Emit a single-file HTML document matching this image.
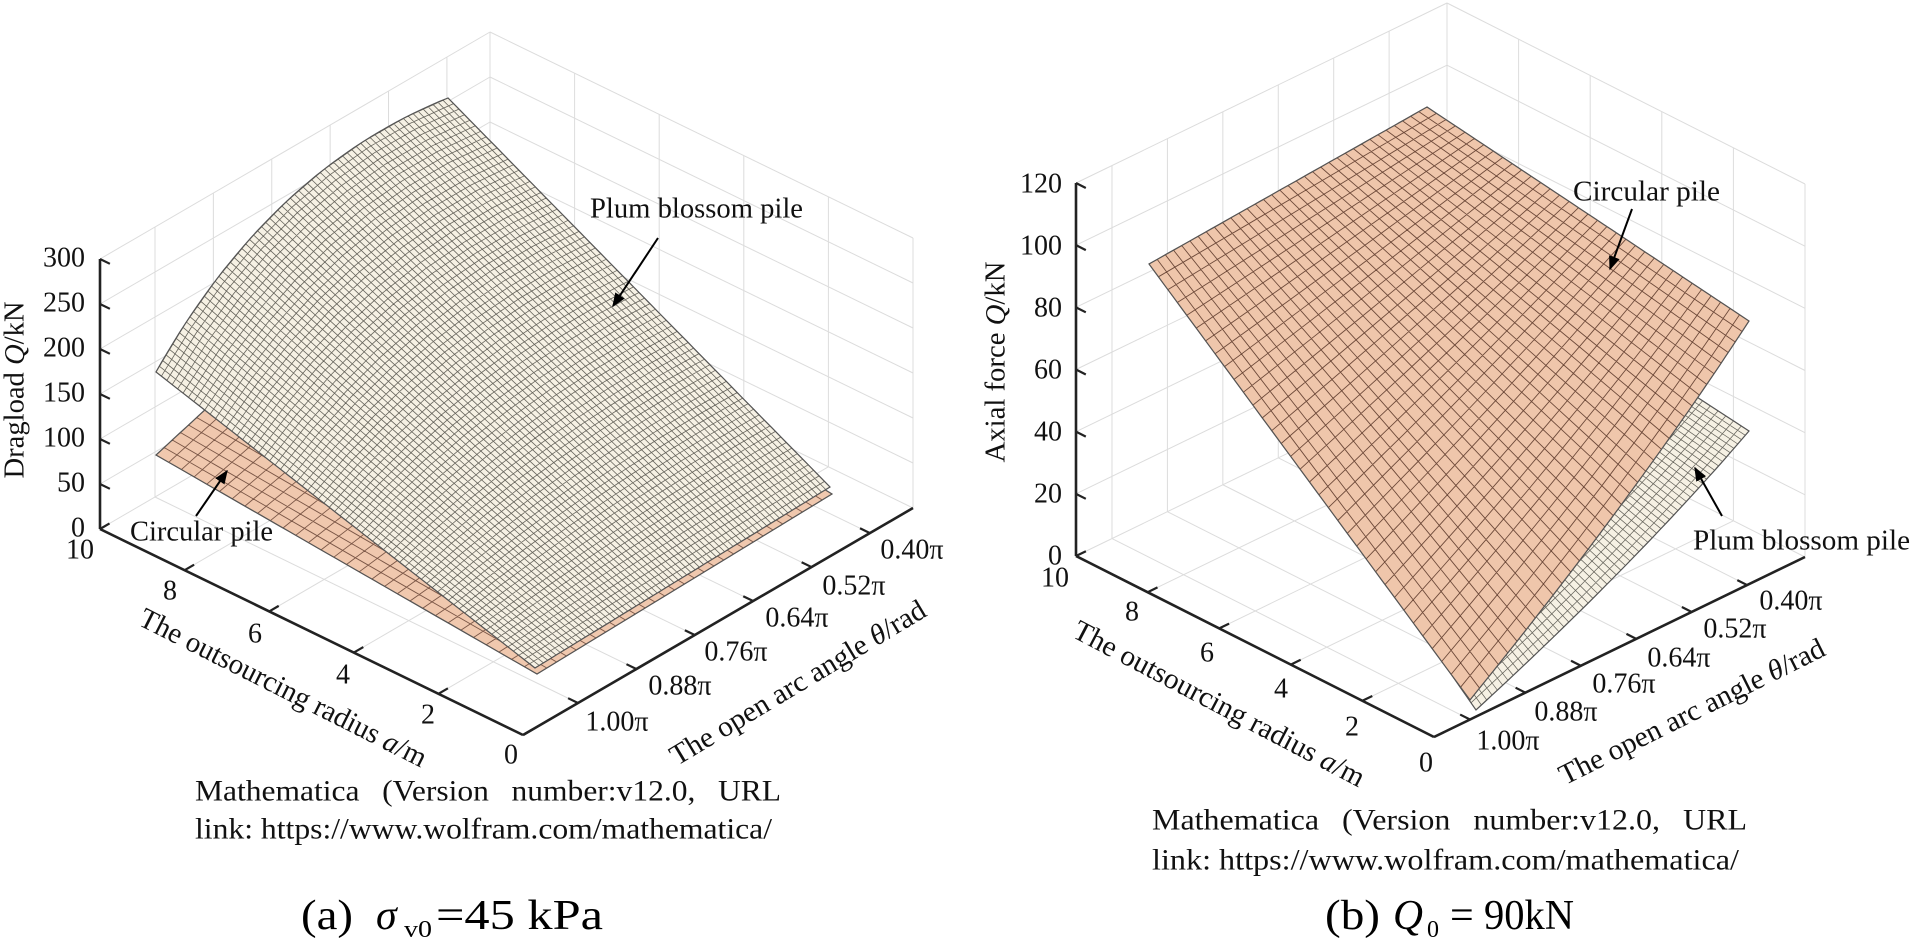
<!DOCTYPE html>
<html><head><meta charset="utf-8"><style>
html,body{margin:0;padding:0;background:#fff;}
svg{display:block;font-family:"Liberation Serif",serif;}
</style></head><body>
<svg id="s" width="1911" height="940" viewBox="0 0 1911 940" xmlns="http://www.w3.org/2000/svg">
<defs><marker id="ah" viewBox="0 0 10 10" refX="9" refY="5" markerWidth="7" markerHeight="7" orient="auto"><path d="M0,1 L10,5 L0,9 z" fill="#000"/></marker></defs>
<g id="grid" stroke="#dcdcdc" stroke-width="1" fill="none"></g>
<g id="surf"></g>
<g id="axes" stroke="#222" stroke-width="2.6" fill="none"></g>
<g font-size="28" fill="#111" text-anchor="end" dominant-baseline="central">
<text x="85" y="528">0</text><text x="85" y="483">50</text><text x="85" y="438">100</text><text x="85" y="393">150</text><text x="85" y="348">200</text><text x="85" y="303">250</text><text x="85" y="258">300</text>
<text x="1062" y="556">0</text><text x="1062" y="494">20</text><text x="1062" y="432">40</text><text x="1062" y="370">60</text><text x="1062" y="308">80</text><text x="1062" y="246">100</text><text x="1062" y="184">120</text>
</g>
<g font-size="28" fill="#111" text-anchor="middle" dominant-baseline="central">
<text x="80" y="550">10</text><text x="170" y="591">8</text><text x="255" y="634">6</text><text x="343" y="675">4</text><text x="428" y="715">2</text><text x="511" y="755">0</text>
<text x="1055" y="578">10</text><text x="1132" y="612">8</text><text x="1207" y="653">6</text><text x="1281" y="689">4</text><text x="1352" y="727">2</text><text x="1426" y="763">0</text>
<text x="912" y="550">0.40π</text><text x="854" y="586">0.52π</text><text x="797" y="618">0.64π</text><text x="736" y="652">0.76π</text><text x="680" y="686">0.88π</text><text x="617" y="722">1.00π</text>
<text x="1791" y="601">0.40π</text><text x="1735" y="629">0.52π</text><text x="1679" y="658">0.64π</text><text x="1624" y="684">0.76π</text><text x="1566" y="712">0.88π</text><text x="1508" y="741">1.00π</text>
<text transform="translate(15,390) rotate(-90)" textLength="177" lengthAdjust="spacingAndGlyphs">Dragload <tspan font-style="italic">Q</tspan>/kN</text>
<text transform="translate(996,362) rotate(-90)" textLength="201" lengthAdjust="spacingAndGlyphs">Axial force <tspan font-style="italic">Q</tspan>/kN</text>
<text font-size="29" transform="translate(283,688) rotate(26.8)" textLength="318" lengthAdjust="spacingAndGlyphs">The outsourcing radius <tspan font-style="italic">a</tspan>/m</text>
<text font-size="29" transform="translate(1219,704) rotate(27.7)" textLength="325" lengthAdjust="spacingAndGlyphs">The outsourcing radius <tspan font-style="italic">a</tspan>/m</text>
<text font-size="29" transform="translate(798,683) rotate(-31)" textLength="293" lengthAdjust="spacingAndGlyphs">The open arc angle <tspan font-style="italic">θ</tspan>/rad</text>
<text font-size="29" transform="translate(1692,712) rotate(-26.5)" textLength="293" lengthAdjust="spacingAndGlyphs">The open arc angle <tspan font-style="italic">θ</tspan>/rad</text>
</g>
<g font-size="28" fill="#111" dominant-baseline="central">
<text x="590" y="209" textLength="213" lengthAdjust="spacingAndGlyphs">Plum blossom pile</text>
<text x="130" y="532" textLength="143" lengthAdjust="spacingAndGlyphs">Circular pile</text>
<text x="1573" y="192" textLength="147" lengthAdjust="spacingAndGlyphs">Circular pile</text>
<text x="1693" y="541" textLength="217" lengthAdjust="spacingAndGlyphs">Plum blossom pile</text>
</g>
<g stroke="#000" stroke-width="2" marker-end="url(#ah)">
<line x1="658" y1="238" x2="613" y2="306"/>
<line x1="196" y1="516" x2="227" y2="471"/>
<line x1="1632" y1="209" x2="1610" y2="269"/>
<line x1="1722" y1="516" x2="1695" y2="468"/>
</g>
<g font-size="30" fill="#111" dominant-baseline="central">
<text x="195" y="791" textLength="586" lengthAdjust="spacingAndGlyphs" word-spacing="14">Mathematica (Version number:v12.0, URL</text>
<text x="195" y="829" textLength="577" lengthAdjust="spacingAndGlyphs">link: https://www.wolfram.com/mathematica/</text>
<text x="1152" y="820" textLength="595" lengthAdjust="spacingAndGlyphs" word-spacing="14">Mathematica (Version number:v12.0, URL</text>
<text x="1152" y="860" textLength="587" lengthAdjust="spacingAndGlyphs">link: https://www.wolfram.com/mathematica/</text>
</g>
<g font-size="42" fill="#000">
<text x="301" y="929" textLength="52" lengthAdjust="spacingAndGlyphs">(a)</text>
<text x="376" y="929" font-style="italic">σ</text>
<text x="404" y="937" font-size="24" textLength="28" lengthAdjust="spacingAndGlyphs">v0</text>
<text x="436" y="929" textLength="167" lengthAdjust="spacingAndGlyphs">=45 kPa</text>
<text x="1325" y="929" textLength="55" lengthAdjust="spacingAndGlyphs">(b)</text>
<text x="1393" y="929" font-style="italic" textLength="30" lengthAdjust="spacingAndGlyphs">Q</text>
<text x="1427" y="937" font-size="24">0</text>
<text x="1450" y="929">=</text>
<text x="1484" y="929" textLength="90" lengthAdjust="spacingAndGlyphs">90kN</text>
</g>
</svg>
<script>
(function(){
var NS="http://www.w3.org/2000/svg";
function el(p,tag,a){var e=document.createElementNS(NS,tag);for(var k in a)e.setAttribute(k,a[k]);p.appendChild(e);return e;}
var grid=document.getElementById('grid'),surf=document.getElementById('surf'),axes=document.getElementById('axes');
function L(g,x1,y1,x2,y2,a){var o={x1:x1,y1:y1,x2:x2,y2:y2};if(a)for(var k in a)o[k]=a[k];el(g,'line',o);}
function box(Lp,B,R,H,nz,thf){
  var K=[Lp[0]+R[0]-B[0],Lp[1]+R[1]-B[1]];
  for(var i=0;i<=nz;i++){var dz=H*i/nz;
    L(grid,Lp[0],Lp[1]-dz,K[0],K[1]-dz);L(grid,K[0],K[1]-dz,R[0],R[1]-dz);}
  L(grid,K[0],K[1],K[0],K[1]-H);L(grid,R[0],R[1],R[0],R[1]-H);
  for(var j=1;j<5;j++){var f=j/5;var x=K[0]+f*(R[0]-K[0]),y=K[1]+f*(R[1]-K[1]);L(grid,x,y,x,y-H);
    var bx=Lp[0]+f*(B[0]-Lp[0]),by=Lp[1]+f*(B[1]-Lp[1]);L(grid,bx,by,x,y);}
  thf.forEach(function(f){var x=Lp[0]+f*(K[0]-Lp[0]),y=Lp[1]+f*(K[1]-Lp[1]);L(grid,x,y,x,y-H);
    var bx=B[0]+f*(R[0]-B[0]),by=B[1]+f*(R[1]-B[1]);L(grid,bx,by,x,y);});
  L(axes,Lp[0],Lp[1]-H,Lp[0],Lp[1]);L(axes,Lp[0],Lp[1],B[0],B[1]);L(axes,B[0],B[1],R[0],R[1]);
  var ux=(Lp[0]-B[0]),uy=(Lp[1]-B[1]),ul=Math.hypot(ux,uy);ux/=ul;uy/=ul;
  var vx=(R[0]-B[0]),vy=(R[1]-B[1]),vl=Math.hypot(vx,vy);vx/=vl;vy/=vl;
  for(var i=0;i<=nz;i++){var y=Lp[1]-H*i/nz;L(axes,Lp[0],y,Lp[0]-ux*11,y-uy*11,{'stroke-width':2.2});}
  for(var j=0;j<=5;j++){var x=B[0]+ux*ul*j/5,y=B[1]+uy*ul*j/5;L(axes,x,y,x+vx*11,y+vy*11,{'stroke-width':2.2});}
  thf.forEach(function(f){var x=B[0]+vx*vl*f,y=B[1]+vy*vl*f;L(axes,x,y,x+ux*11,y+uy*11,{'stroke-width':2.2});});
}
var tl=[],tr=[];for(var k=0;k<6;k++){tl.push(0.141+0.1497*k);tr.push(0.097+0.1494*k);}
box([100,529],[523,735],[913,508],270,6,tl);
box([1076,556],[1434,737],[1805,557],373,6,tr);
function patch(P00,P10,P01,P11,b,n,m,fill,stroke,sw){
  b=b||{};var bt0=b.t0||[0,0],bt1=b.t1||[0,0],bs0=b.s0||[0,0],bs1=b.s1||[0,0];
  function P(s,t){var r=[];for(var c=0;c<2;c++){r.push((1-s)*(1-t)*P00[c]+s*(1-t)*P10[c]+(1-s)*t*P01[c]+s*t*P11[c]
    +4*s*(1-s)*((1-t)*bt0[c]+t*bt1[c])+4*t*(1-t)*((1-s)*bs0[c]+s*bs1[c]));}return r;}
  var N=40,pts=[],i;
  for(i=0;i<=N;i++)pts.push(P(i/N,0));for(i=0;i<=N;i++)pts.push(P(1,i/N));
  for(i=N;i>=0;i--)pts.push(P(i/N,1));for(i=N;i>=0;i--)pts.push(P(0,i/N));
  var ps=pts.map(function(p){return p[0].toFixed(1)+','+p[1].toFixed(1)}).join(' ');
  el(surf,'polygon',{points:ps,fill:fill,stroke:'none'});
  var d='';
  for(i=0;i<=n;i++){var s=i/n;for(var j=0;j<=8;j++){var p=P(s,j/8);d+=(j?'L':'M')+p[0].toFixed(1)+','+p[1].toFixed(1);}}
  for(i=0;i<=m;i++){var t=i/m;for(var j=0;j<=8;j++){var p=P(j/8,t);d+=(j?'L':'M')+p[0].toFixed(1)+','+p[1].toFixed(1);}}
  el(surf,'path',{d:d,fill:'none',stroke:stroke,'stroke-width':sw});
  el(surf,'polygon',{points:ps,fill:'none',stroke:'#555','stroke-width':1.2});
}
patch([400,230],[156,455],[832,494],[537,674],{},30,30,'#f0c8ae','#7a5646',0.9);
patch([448,98],[156,372],[830,487],[535,668],{t0:[-16,-33]},70,70,'#f6f1e4','#66645c',0.8);
patch([1440,230],[1275,420],[1749,431],[1476,710],{t1:[13,-5]},60,40,'#f6f1e4','#66645c',0.75);
patch([1427,107],[1149,264],[1749,321],[1470,700],{t1:[12,-6]},34,34,'#efc6ab','#6e4a3a',0.9);
})();
</script>
</body></html>
